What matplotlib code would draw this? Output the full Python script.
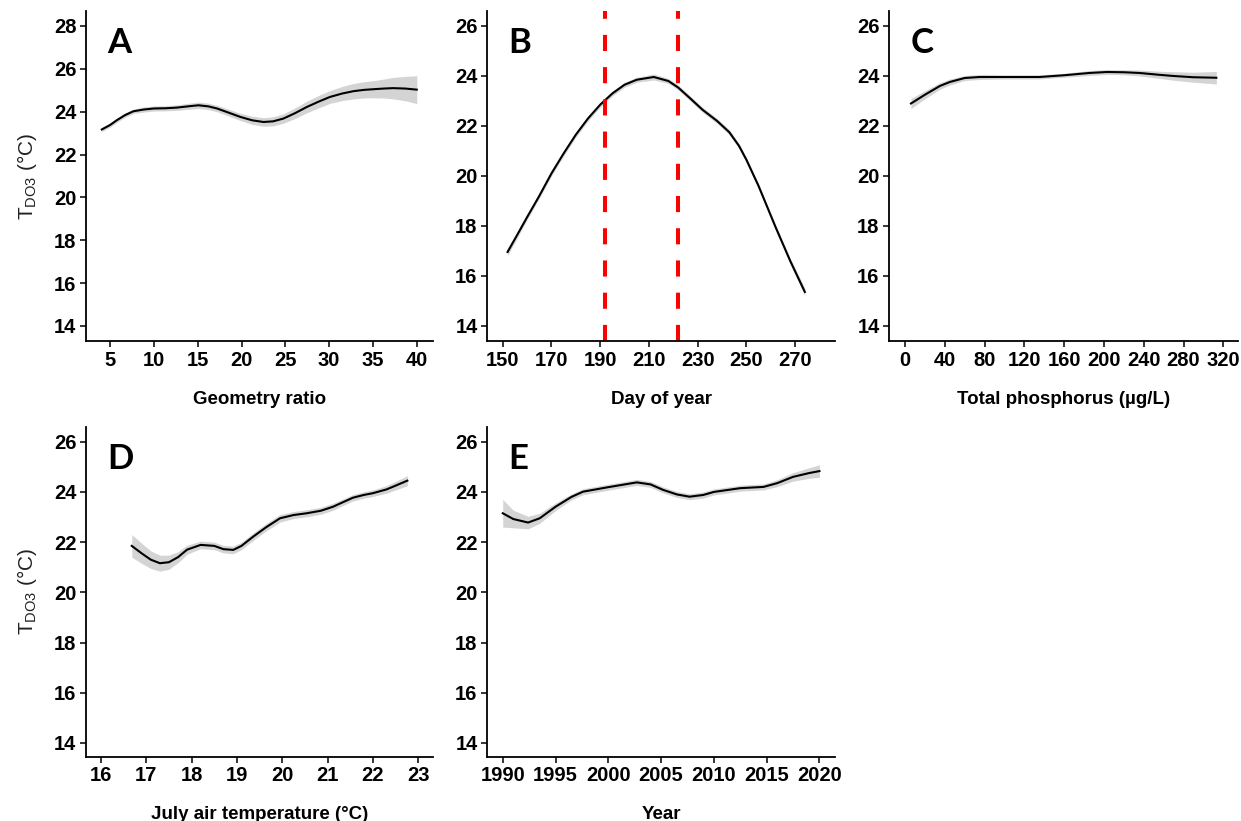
import matplotlib
matplotlib.use('Agg')
import matplotlib.pyplot as plt
import numpy as np

plt.rcParams['font.family'] = ['Liberation Sans', 'DejaVu Sans']
plt.rcParams['mathtext.fontset'] = 'custom'
plt.rcParams['mathtext.rm'] = 'Liberation Sans'

# A - geometry ratio
geo_x = [4.05, 5.0, 5.76, 6.7, 7.66, 8.8, 10.0, 11.3, 12.6, 13.9, 15.08, 16.2, 17.2, 18.5, 19.84, 21.2,
         22.5, 23.6, 24.78, 26.1, 27.45, 28.8, 30.1, 31.5, 32.8, 34.0, 35.06, 36.2, 37.3, 38.7, 40.0]
geo_y = [23.17, 23.38, 23.6, 23.84, 24.02, 24.1, 24.15, 24.16, 24.19, 24.25, 24.3, 24.25, 24.15, 23.96, 23.76, 23.6,
         23.52, 23.55, 23.68, 23.93, 24.22, 24.47, 24.69, 24.85, 24.96, 25.02, 25.05, 25.08, 25.1, 25.08, 25.03]
geo_se = [0.1, 0.1, 0.1, 0.1, 0.1, 0.12, 0.12, 0.12, 0.13, 0.14, 0.15, 0.15, 0.15, 0.16, 0.17, 0.19,
          0.2, 0.21, 0.22, 0.25, 0.27, 0.29, 0.3, 0.33, 0.36, 0.38, 0.4, 0.44, 0.5, 0.57, 0.65]

# B - day of year
doy_x = [152, 156, 160, 165, 170, 175, 180, 185, 190, 195, 200, 205, 212, 218, 222, 227, 232, 238,
         243, 247, 250, 255, 262, 268, 274]
doy_y = [16.96, 17.65, 18.35, 19.2, 20.1, 20.9, 21.65, 22.3, 22.85, 23.3, 23.65, 23.85, 23.96, 23.8, 23.54,
         23.1, 22.65, 22.2, 21.75, 21.2, 20.65, 19.6, 17.95, 16.6, 15.36]
doy_se = [0.15, 0.12, 0.1, 0.1, 0.1, 0.1, 0.1, 0.1, 0.1, 0.1, 0.1, 0.1, 0.12, 0.1, 0.1, 0.1, 0.1, 0.1,
          0.1, 0.1, 0.1, 0.1, 0.1, 0.12, 0.15]
doy_lines = [192, 222]

# C - total phosphorus
tp_x = [6, 20, 35, 45, 60, 75, 100, 135, 160, 185, 203, 220, 236, 255, 270, 290, 313]
tp_y = [22.9, 23.25, 23.6, 23.76, 23.92, 23.96, 23.96, 23.96, 24.03, 24.12, 24.16, 24.15, 24.12, 24.05,
        24.0, 23.95, 23.93]
tp_se = [0.2, 0.16, 0.13, 0.12, 0.1, 0.1, 0.08, 0.08, 0.08, 0.1, 0.1, 0.1, 0.12, 0.14, 0.17, 0.2, 0.25]

# D - July air temperature
air_x = [16.68, 16.9, 17.1, 17.3, 17.5, 17.7, 17.9, 18.2, 18.5, 18.7, 18.92, 19.1, 19.36, 19.65, 19.95,
         20.25, 20.54, 20.85, 21.12, 21.35, 21.56, 21.8, 22.0, 22.3, 22.5, 22.76]
air_y = [21.85, 21.55, 21.3, 21.16, 21.2, 21.4, 21.7, 21.89, 21.85, 21.72, 21.69, 21.85, 22.22, 22.6, 22.95,
         23.08, 23.15, 23.25, 23.41, 23.6, 23.77, 23.88, 23.95, 24.1, 24.25, 24.45]
air_se = [0.45, 0.4, 0.35, 0.32, 0.28, 0.22, 0.18, 0.15, 0.15, 0.15, 0.15, 0.15, 0.15, 0.15, 0.15,
          0.14, 0.14, 0.14, 0.14, 0.13, 0.13, 0.13, 0.13, 0.15, 0.17, 0.2]

# E - year
yr_x = [1990, 1991, 1992.4, 1993.5, 1995, 1996.5, 1997.6, 2000, 2002.7, 2004, 2005.2, 2006.5, 2007.7,
        2009, 2010, 2012.5, 2014.7, 2016, 2017.5, 2019, 2020]
yr_y = [23.15, 22.92, 22.78, 22.95, 23.41, 23.8, 24.01, 24.19, 24.38, 24.3, 24.08, 23.9, 23.81, 23.88,
        24.0, 24.15, 24.2, 24.35, 24.6, 24.75, 24.83]
yr_se = [0.55, 0.35, 0.25, 0.2, 0.15, 0.12, 0.12, 0.12, 0.12, 0.12, 0.12, 0.12, 0.12, 0.12, 0.12,
         0.12, 0.12, 0.14, 0.17, 0.21, 0.25]

panels = [
    ('A', geo_x, geo_y, geo_se, 'Geometry ratio', np.arange(5, 41, 5), (2.25, 41.85), np.arange(14, 29, 2), (13.3, 28.7)),
    ('B', doy_x, doy_y, doy_se, 'Day of year', np.arange(150, 271, 20), (143.7, 286.4), np.arange(14, 27, 2), (13.4, 26.6)),
    ('C', tp_x, tp_y, tp_se, 'Total phosphorus (µg/L)', np.arange(0, 321, 40), (-15.8, 334.8), np.arange(14, 27, 2), (13.4, 26.6)),
    ('D', air_x, air_y, air_se, 'July air temperature (°C)', np.arange(16, 24, 1), (15.67, 23.32), np.arange(14, 27, 2), (13.45, 26.6)),
    ('E', yr_x, yr_y, yr_se, 'Year', np.arange(1990, 2021, 5), (1988.54, 2021.48), np.arange(14, 27, 2), (13.45, 26.6)),
]

# axes boxes in figure fraction (left, bottom, width, height)
boxes = [
    (0.0693, 0.5847, 0.2796, 0.4019),
    (0.3927, 0.5847, 0.2802, 0.4019),
    (0.7166, 0.5847, 0.2810, 0.4019),
    (0.0693, 0.0783, 0.2794, 0.4020),
    (0.3927, 0.0783, 0.2802, 0.4020),
]

fig = plt.figure(figsize=(12.41, 8.21), dpi=100)

for i in range(0, len(panels)):
    letter, x, y, se, xlab, xt, xl, yt, yl = panels[i]
    ax = fig.add_axes(boxes[i])
    x = np.array(x)
    y = np.array(y)
    se = np.array(se)
    ax.fill_between(x, y - se, y + se, color='#d4d4d4', linewidth=0)
    ax.plot(x, y, color='black', linewidth=1.5)
    if letter == 'B':
        for d in doy_lines:
            ax.plot([d, d], [yl[0], yl[1]], color='#ff0000', linewidth=2.9,
                    dashes=(4, 4), solid_capstyle='butt', dash_capstyle='butt')
    ax.set_xlim(xl)
    ax.set_ylim(yl)
    ax.set_xticks(xt)
    ax.set_yticks(yt)
    for s in ['top', 'right']:
        ax.spines[s].set_visible(False)
    for s in ['left', 'bottom']:
        ax.spines[s].set_linewidth(1.3)
    ax.tick_params(direction='out', length=4, width=1.1, pad=3, labelsize=14.5)
    for lab in ax.get_xticklabels() + ax.get_yticklabels():
        lab.set_fontweight('bold')
    ax.set_xlabel(xlab, fontsize=13.5, fontweight='bold', labelpad=15)
    if letter in ['A', 'D']:
        ax.set_ylabel('T$_{\\mathregular{DO3}}$ (°C)', fontsize=15, labelpad=11, color='#222222')
    ax.text(0.06, 0.873, letter, transform=ax.transAxes, fontsize=25, fontweight='bold',
            family=['Lato', 'DejaVu Sans'], va='baseline', ha='left')

plt.savefig('out.png', dpi=100)
